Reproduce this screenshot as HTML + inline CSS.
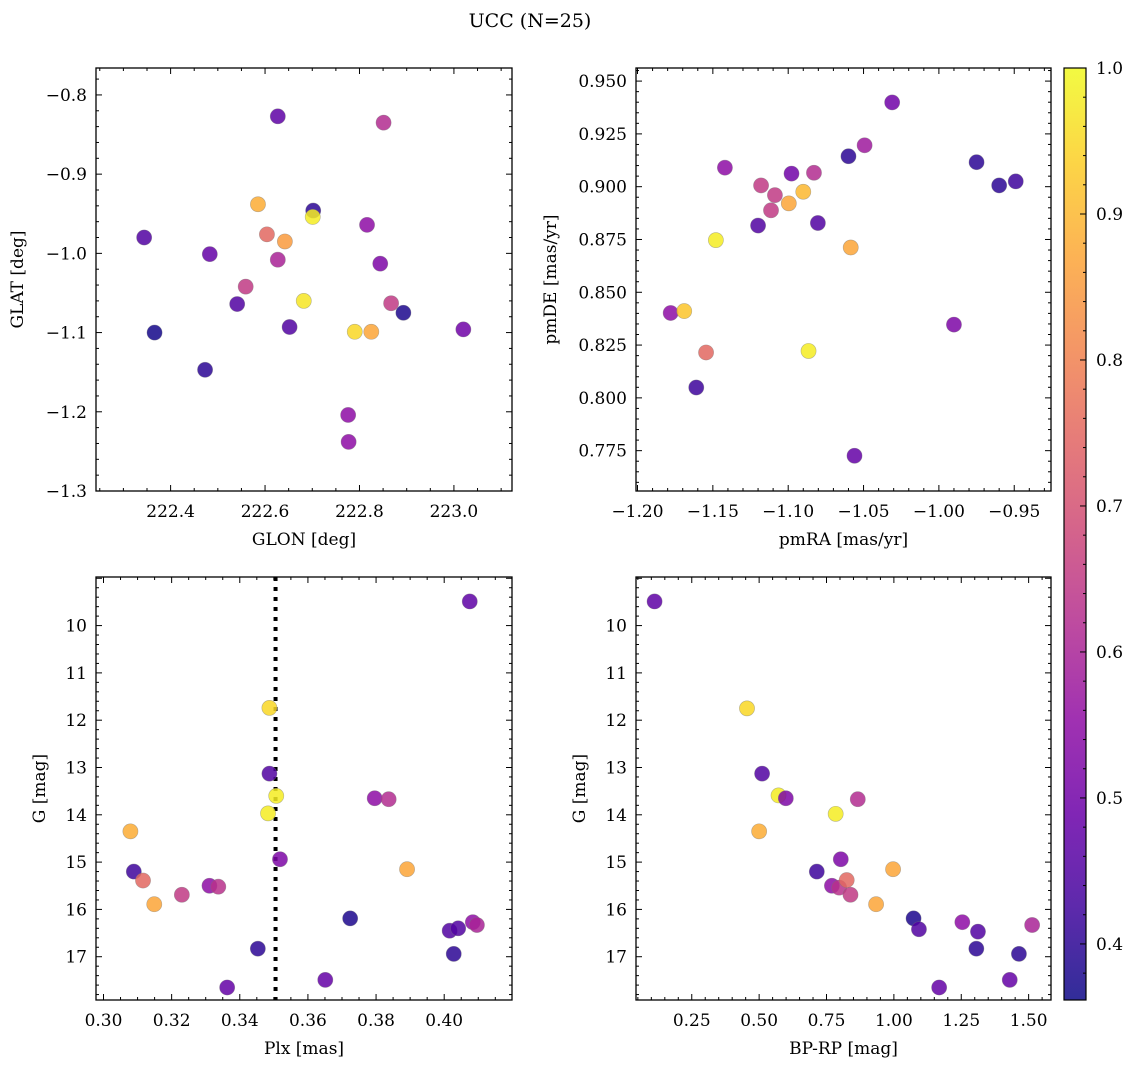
<!DOCTYPE html>
<html><head><meta charset="utf-8">
<style>
body{margin:0;background:#fff;}
svg{display:block;}
svg text{font-family:"DejaVu Serif","Liberation Serif",serif;}
</style></head>
<body>
<svg id="fig" width="1136" height="1067" viewBox="0 0 1136 1067" xmlns="http://www.w3.org/2000/svg">
<text x="530" y="27" font-size="19" text-anchor="middle" font-family="DejaVu Serif, Liberation Serif, serif">UCC (N=25)</text>
</svg>
<script>
// ---- data ----
const glon = [222.344,222.366,222.473,222.483,222.541,222.559,222.585,222.604,222.627,222.627,222.642,222.652,222.682,222.702,222.701,222.776,222.777,222.790,222.816,222.825,222.844,222.851,222.867,222.893,223.020];
const glat = [-0.980,-1.100,-1.147,-1.001,-1.064,-1.042,-0.938,-0.976,-0.827,-1.008,-0.985,-1.093,-1.060,-0.946,-0.954,-1.204,-1.238,-1.099,-0.964,-1.099,-1.013,-0.835,-1.063,-1.075,-1.096];
const probA = [0.45,0.37,0.40,0.48,0.45,0.65,0.88,0.75,0.47,0.60,0.85,0.45,0.97,0.40,0.98,0.55,0.55,0.95,0.55,0.87,0.52,0.62,0.65,0.38,0.50];

const pmra = [-1.178,-1.169,-1.161,-1.1545,-1.148,-1.142,-1.120,-1.118,-1.1114,-1.1088,-1.0996,-1.0978,-1.090,-1.0865,-1.0829,-1.0803,-1.060,-1.0585,-1.056,-1.0493,-1.031,-0.990,-0.975,-0.960,-0.949];
const pmde = [0.8402,0.8411,0.8049,0.8215,0.8747,0.9090,0.8816,0.9006,0.8888,0.8960,0.8921,0.9062,0.8976,0.8222,0.9066,0.8828,0.9144,0.8712,0.7726,0.9196,0.9399,0.8347,0.9116,0.9006,0.9025];
const probB = [0.55,0.92,0.42,0.75,0.98,0.55,0.45,0.65,0.65,0.65,0.87,0.50,0.90,0.98,0.62,0.45,0.40,0.87,0.48,0.58,0.50,0.52,0.40,0.40,0.42];

const plx = [0.3079,0.3089,0.3116,0.3149,0.3230,0.3311,0.3337,0.3363,0.3453,0.3483,0.3487,0.3487,0.3507,0.3518,0.3651,0.3724,0.3796,0.3837,0.3891,0.4016,0.4028,0.4041,0.4075,0.4084,0.4096];
const gmagC = [14.35,15.20,15.39,15.89,15.69,15.50,15.52,17.65,16.83,13.97,11.74,13.13,13.60,14.94,17.49,16.19,13.65,13.67,15.15,16.45,16.94,16.40,9.49,16.27,16.33];
const probC = [0.88,0.42,0.75,0.87,0.65,0.55,0.63,0.48,0.40,0.98,0.95,0.45,0.98,0.52,0.48,0.38,0.55,0.62,0.87,0.45,0.40,0.45,0.47,0.55,0.60];
const plxLine = [0.3505];

const bprp = [0.112,0.455,0.511,0.500,0.572,0.599,0.714,0.770,0.784,0.797,0.803,0.825,0.839,0.866,0.934,0.997,1.073,1.093,1.168,1.254,1.306,1.312,1.430,1.464,1.513];
const gmagD = [9.49,11.75,13.13,14.35,13.59,13.65,15.20,15.50,13.98,15.54,14.94,15.38,15.69,13.67,15.89,15.15,16.19,16.42,17.65,16.27,16.83,16.47,17.49,16.94,16.33];
const probD = [0.47,0.95,0.45,0.88,0.98,0.52,0.42,0.55,0.98,0.63,0.52,0.75,0.65,0.62,0.87,0.87,0.38,0.45,0.48,0.55,0.40,0.45,0.48,0.40,0.60];

const ticksGlon = [222.4,222.6,222.8,223.0];
const ticksGlat = [-0.8,-0.9,-1.0,-1.1,-1.2,-1.3];
const ticksPmra = [-1.20,-1.15,-1.10,-1.05,-1.00,-0.95];
const ticksPmde = [0.775,0.800,0.825,0.850,0.875,0.900,0.925,0.950];
const ticksPlx = [0.30,0.32,0.34,0.36,0.38,0.40];
const ticksG = [10,11,12,13,14,15,16,17];
const ticksBprp = [0.25,0.50,0.75,1.00,1.25,1.50];
const ticksCbar = [0.4,0.5,0.6,0.7,0.8,0.9,1.0];

const VMIN = 0.3616, VMAX = 1.0;
const NS = "http://www.w3.org/2000/svg";
const svg = document.getElementById('fig');
const FF = "DejaVu Serif, Liberation Serif, serif";
const FS = 17;

const plasma = [[13,8,135],[65,4,157],[106,0,168],[143,13,164],[177,42,144],[204,71,120],[225,100,98],[242,132,75],[252,166,54],[252,206,37],[240,249,33]];
function cmap(v){
  let t=(v-VMIN)/(VMAX-VMIN); t=Math.max(0,Math.min(1,t));
  const f=t*10, i=Math.min(9,Math.floor(f)), r=f-i;
  const a=plasma[i], b=plasma[i+1];
  return 'rgb('+a.map((c,k)=>Math.round(c+(b[k]-c)*r)).join(',')+')';
}
function mk(tag, attrs, parent){
  const e=document.createElementNS(NS,tag);
  for(const k in attrs) e.setAttribute(k,attrs[k]);
  if(tag==='text') e.setAttribute('font-family',FF);
  (parent||svg).appendChild(e); return e;
}
function fmt(v,d){ const s=Math.abs(v).toFixed(d); return (v<0?'\u2212':'')+s; }

function panel(o){
  const g=mk('g',{});
  
  
  const X=v=>o.x0+(v-o.xmin)/(o.xmax-o.xmin)*(o.x1-o.x0);
  const Y=o.invert ? (v=>o.y0+(v-o.ymin)/(o.ymax-o.ymin)*(o.y1-o.y0)) : (v=>o.y1-(v-o.ymin)/(o.ymax-o.ymin)*(o.y1-o.y0));
  if(o.vline){ o.vline.forEach(v=>{
    const l=mk('line',{x1:X(v),x2:X(v),y1:o.y0,y2:o.y1,stroke:'#000','stroke-width':4,'stroke-dasharray':'4 6'},g);
    
    
  });}
  for(let i=0;i<o.xs.length;i++){
    const c=mk('circle',{cx:X(o.xs[i]),cy:Y(o.ys[i]),r:7.6,fill:cmap(o.cs[i]),'fill-opacity':0.85,stroke:'#777','stroke-opacity':0.5,'stroke-width':0.6},g);
    
    
  }
  const fr=mk('rect',{x:o.x0,y:o.y0,width:o.x1-o.x0,height:o.y1-o.y0,fill:'none',stroke:'#000','stroke-width':1.3},g);
  
  
  const xs=o.xt[1]-o.xt[0];
  for(let k=-o.xminor*3;k<=(o.xt.length+3)*o.xminor;k++){
    const v=o.xt[0]+k*xs/o.xminor; const px=X(v);
    if(px<o.x0+0.5||px>o.x1-0.5) continue;
    const len=(k%o.xminor===0)?6:3;
    mk('line',{x1:px,x2:px,y1:o.y1,y2:o.y1-len,stroke:'#000','stroke-width':1},g);
    mk('line',{x1:px,x2:px,y1:o.y0,y2:o.y0+len,stroke:'#000','stroke-width':1},g);
  }
  o.xt.forEach(v=>{
    const t=mk('text',{x:X(v),y:o.y1+26,'font-size':FS,'text-anchor':'middle'},g);
    t.textContent=fmt(v,o.xd);
    
    
  });
  const ys=o.yt[1]-o.yt[0];
  for(let k=-o.yminor*3;k<=(o.yt.length+3)*o.yminor;k++){
    const v=o.yt[0]+k*ys/o.yminor; const py=Y(v);
    if(py<o.y0+0.5||py>o.y1-0.5) continue;
    const len=(k%o.yminor===0)?6:3;
    mk('line',{x1:o.x0,x2:o.x0+len,y1:py,y2:py,stroke:'#000','stroke-width':1},g);
    mk('line',{x1:o.x1,x2:o.x1-len,y1:py,y2:py,stroke:'#000','stroke-width':1},g);
  }
  o.yt.forEach(v=>{
    const t=mk('text',{x:o.x0-9,y:Y(v)+6,'font-size':FS,'text-anchor':'end'},g);
    t.textContent=fmt(v,o.yd);
    
    
  });
  const xl=mk('text',{x:(o.x0+o.x1)/2,y:o.y1+54,'font-size':FS,'text-anchor':'middle'},g);
  xl.textContent=o.xlabel;
  
  
  const yx=o.ylx, yy=(o.y0+o.y1)/2;
  const yl=mk('text',{x:yx,y:yy,'font-size':FS,'text-anchor':'middle',transform:'rotate(-90 '+yx+' '+yy+')'},g);
  yl.textContent=o.ylabel;
  
  
}

panel({name:'glon-glat-panel',x0:96,x1:512,y0:68,y1:491,xmin:222.242,xmax:223.123,ymin:-1.3,ymax:-0.766,
  xs:glon,ys:glat,cs:probA,xt:ticksGlon,xd:1,xminor:4,yt:ticksGlat,yd:1,yminor:5,xlabel:'GLON [deg]',ylabel:'GLAT [deg]',ylx:23});
panel({name:'pm-panel',x0:636,x1:1051,y0:68,y1:491,xmin:-1.201,xmax:-0.9256,ymin:0.7559,ymax:0.9562,
  xs:pmra,ys:pmde,cs:probB,xt:ticksPmra,xd:2,xminor:5,yt:ticksPmde,yd:3,yminor:5,xlabel:'pmRA [mas/yr]',ylabel:'pmDE [mas/yr]',ylx:556});
panel({name:'plx-g-panel',x0:96,x1:512,y0:577,y1:1000,xmin:0.2978,xmax:0.4199,ymin:8.973,ymax:17.915,invert:true,vline:plxLine,
  xs:plx,ys:gmagC,cs:probC,xt:ticksPlx,xd:2,xminor:4,yt:ticksG,yd:0,yminor:5,xlabel:'Plx [mas]',ylabel:'G [mag]',ylx:45});
panel({name:'cmd-panel',x0:636,x1:1051,y0:577,y1:1000,xmin:0.0431,xmax:1.583,ymin:8.973,ymax:17.915,invert:true,
  xs:bprp,ys:gmagD,cs:probD,xt:ticksBprp,xd:2,xminor:5,yt:ticksG,yd:0,yminor:5,xlabel:'BP-RP [mag]',ylabel:'G [mag]',ylx:585});

(function(){
  const cx0=1064,cx1=1086,cy0=68,cy1=1000;
  const g=mk('g',{});
  
  
  const defs=mk('defs',{},g);
  const lg=mk('linearGradient',{id:'cb',x1:0,y1:1,x2:0,y2:0},defs);
  for(let i=0;i<=20;i++){ const t=i/20; mk('stop',{offset:t,'stop-color':cmap(VMIN+t*(VMAX-VMIN)),'stop-opacity':0.85},lg); }
  mk('rect',{x:cx0,y:cy0,width:cx1-cx0,height:cy1-cy0,fill:'url(#cb)',stroke:'#000','stroke-width':1.2},g);
  const Y=v=>cy1-(v-VMIN)/(VMAX-VMIN)*(cy1-cy0);
  for(let v=0.36;v<=1.0001;v+=0.02){
    const py=Y(v); if(py<cy0+0.5||py>cy1-0.5) continue;
    const major=Math.abs(v*10-Math.round(v*10))<1e-6;
    mk('line',{x1:cx1,x2:cx1-(major?6:3),y1:py,y2:py,stroke:'#000','stroke-width':1},g);
  }
  ticksCbar.forEach(v=>{
    const t=mk('text',{x:cx1+10,y:Y(v)+6,'font-size':FS},g);
    t.textContent=v.toFixed(1);
    
    
  });
})();
</script>
</body></html>
